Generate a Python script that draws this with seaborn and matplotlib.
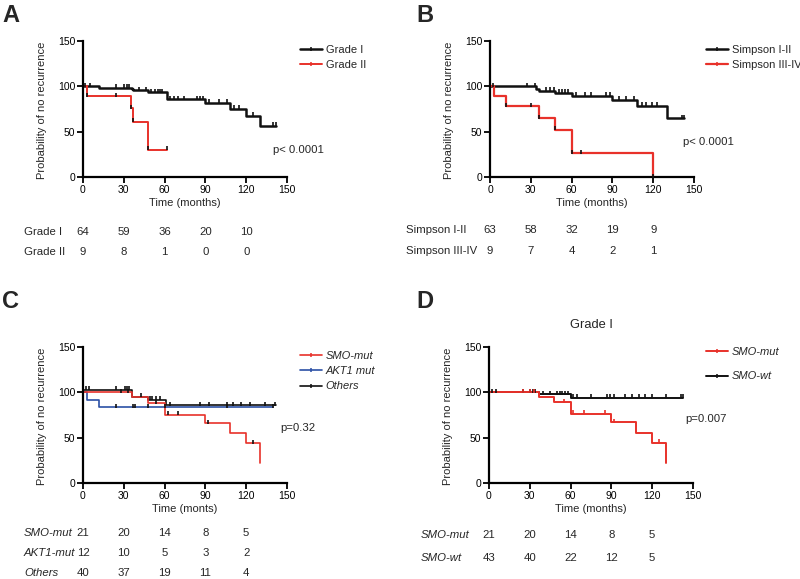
import numpy as np
import matplotlib
matplotlib.use("Agg")
import matplotlib.pyplot as plt
import matplotlib.transforms as mtransforms
from matplotlib.lines import Line2D
import seaborn as sns

# ---------------- data ----------------
# Panel A
A_I_t = [0, 12, 36, 37, 48, 62, 90, 108, 120, 130, 142]
A_I_s = [100, 98.5, 97, 95.5, 93.5, 85.5, 82, 75.5, 67.5, 56.5, 56.5]
A_I_c = [1.5, 5, 24, 30, 32, 34, 41, 46, 50, 53, 55, 56.5, 58, 64, 67, 70, 74, 84, 86, 88, 93, 100, 106, 111, 115, 125, 140, 142]
A_II_t = [0, 3, 35, 36.5, 48, 62]
A_II_s = [100, 89, 76, 61, 30, 30]
A_II_c = [3, 24, 35, 36.5, 48, 62]
A_labels = ["Grade I", "Grade II"]
A_risk = [[64, 59, 36, 20, 10], [9, 8, 1, 0, 0]]

# Panel B
B_I_t = [0, 34, 36, 48, 60, 90, 108, 130, 143]
B_I_s = [100, 97.5, 95, 93, 89.5, 85, 78.5, 65, 65]
B_I_c = [2.5, 27, 33, 41, 44, 47, 51, 53, 55, 57, 63, 70, 74, 85, 88, 95, 100, 106, 112, 115, 119, 123, 141, 143]
B_II_t = [0, 3, 12, 36, 48, 60, 120]
B_II_s = [100, 89, 78, 65, 52, 26, 0]
B_II_c = [12, 30, 36, 48, 60, 67, 120]
B_labels = ["Simpson I-II", "Simpson III-IV"]
B_risk = [[63, 58, 32, 19, 9], [9, 7, 4, 2, 1]]

# Panel C
C_smo_t = [0, 36, 48, 60, 90, 108, 120, 130]
C_smo_s = [100, 95, 88, 75.5, 66, 55, 44, 22]
C_smo_c = [28, 33, 54, 62.5, 70, 92, 125]
C_akt_t = [0, 3, 12, 140]
C_akt_s = [100, 91.7, 83.3, 83.3]
C_akt_c = [24, 36.5, 38, 48, 60, 106, 140]
C_oth_t = [0, 36, 48, 61, 142]
C_oth_s = [103, 95, 92, 86, 86]
C_oth_c = [2, 4.7, 24.3, 31, 32.6, 34, 42.4, 49, 51, 54, 56.6, 64, 86, 93, 105.6, 110.5, 116, 122.8, 133.8, 141]
C_labels = ["SMO-mut", "AKT1 mut", "Others"]
C_risk_labels = ["SMO-mut", "AKT1-mut", "Others"]
C_risk = [[21, 20, 14, 8, 5], [12, 10, 5, 3, 2], [40, 37, 19, 11, 4]]

# Panel D
D_mut_t = [0, 37, 48, 60, 90, 108, 120, 130]
D_mut_s = [100, 95, 89, 76.5, 67, 55.5, 44.5, 22.5]
D_mut_c = [25, 30, 33, 55, 62, 70, 85, 92, 125]
D_wt_t = [0, 37, 60, 143]
D_wt_s = [100, 97.7, 94, 94]
D_wt_c = [2, 5, 25, 30, 32, 34, 40, 45, 50, 52, 54, 56, 58, 62, 65, 75, 87, 89, 92, 100, 105, 110, 115, 120, 130, 141, 143]
D_labels = ["SMO-mut", "SMO-wt"]
D_risk = [[21, 20, 14, 8, 5], [43, 40, 22, 12, 5]]

risk_times = [0, 30, 60, 90, 120]
x_ticks = [0, 30, 60, 90, 120, 150]
y_ticks = [0, 50, 100, 150]

# ---------------- style ----------------
sns.set_style("ticks")
plt.rcParams['font.family'] = ['Liberation Sans', 'DejaVu Sans']

RED = '#e8312a'
BLUE = '#2b50a6'
BLACK = '#111111'

W, H = 800, 579
fig = plt.figure(figsize=(W / 100, H / 100), dpi=100)


def px_axes(x0, x1, y_top, y_bot):
    return fig.add_axes([x0 / W, 1 - y_bot / H, (x1 - x0) / W, (y_bot - y_top) / H])


def surv_at(times, surv, tt):
    idx = np.searchsorted(np.asarray(times), np.asarray(tt), side='right') - 1
    return np.asarray(surv)[idx]


def km(ax, t, s, c, color, lw, ccolor=None):
    sns.lineplot(x=t, y=s, color=color, drawstyle='steps-post', estimator=None,
                 sort=False, linewidth=lw, ax=ax, legend=False)
    cs = surv_at(t, s, c) + 1.6
    sns.scatterplot(x=c, y=cs, marker='|', s=7, color=ccolor or color,
                    linewidth=1.2, ax=ax, legend=False, clip_on=False, zorder=5)


def style_axes(ax, xlabel):
    ax.set_xlim(0, 150)
    ax.set_ylim(0, 150)
    ax.set_xticks(x_ticks)
    ax.set_yticks(y_ticks)
    sns.despine(ax=ax)
    for sp in ['left', 'bottom']:
        ax.spines[sp].set_linewidth(1.6)
        ax.spines[sp].set_color('black')
    ax.tick_params(width=1.3, length=4, labelsize=7.5, pad=1.5, colors='black')
    ax.set_xlabel(xlabel, fontsize=8)
    ax.set_ylabel("Probability of no recurrence", fontsize=8)
    ax.xaxis.set_label_coords(0.5, -0.155)
    ax.yaxis.set_label_coords(-0.178, 0.49)


def legend(ax, handles_info, x_px, y_top_px, spacing, italic=False):
    handles = [Line2D([0], [0], color=c, lw=lw, marker='|', markersize=3,
                      markeredgewidth=1.1) for c, lw in handles_info[1]]
    leg = ax.legend(handles, handles_info[0], loc='upper left',
                    bbox_to_anchor=(x_px / W, 1 - y_top_px / H),
                    bbox_transform=fig.transFigure, frameon=False,
                    fontsize=8, handlelength=2.0, handletextpad=0.3,
                    labelspacing=spacing, borderpad=0, borderaxespad=0)
    if italic:
        for tx in leg.get_texts():
            tx.set_fontstyle('italic')


def risk_table(ax, labels, rows, label_x, ys, italic=False):
    trans = mtransforms.blended_transform_factory(ax.transData, fig.transFigure)
    for lab, row, y in zip(labels, rows, ys):
        fig.text(label_x / W, 1 - y / H, lab, ha='left', va='center', fontsize=8.2,
                 fontstyle='italic' if italic else 'normal')
        for t, n in zip(risk_times, row):
            ax.text(t, 1 - y / H, str(n), transform=trans, ha='center', va='center',
                    fontsize=8.2)


# ---------------- Panel A ----------------
axA = px_axes(83, 287, 41, 177)
km(axA, A_I_t, A_I_s, A_I_c, BLACK, 1.8)
km(axA, A_II_t, A_II_s, A_II_c, RED, 1.4, ccolor=BLACK)
style_axes(axA, "Time (months)")
legend(axA, (A_labels, [(BLACK, 1.8), (RED, 1.4)]), 300, 45, 0.45)
axA.text(139.7, 29.8, "p< 0.0001", fontsize=8.2, va='center', ha='left', clip_on=False)
risk_table(axA, A_labels, A_risk, 24, [232, 252.5])

# ---------------- Panel B ----------------
axB = px_axes(490, 694, 41, 177)
km(axB, B_I_t, B_I_s, B_I_c, BLACK, 1.8)
km(axB, B_II_t, B_II_s, B_II_c, RED, 1.6, ccolor=BLACK)
style_axes(axB, "Time (months)")
legend(axB, (B_labels, [(BLACK, 1.8), (RED, 1.6)]), 706, 45, 0.45)
axB.text(142, 38.6, "p< 0.0001", fontsize=8.2, va='center', ha='left', clip_on=False)
risk_table(axB, B_labels, B_risk, 406, [229.5, 251])

# ---------------- Panel C ----------------
axC = px_axes(83, 287, 347, 483)
km(axC, C_oth_t, C_oth_s, C_oth_c, BLACK, 1.2)
km(axC, C_akt_t, C_akt_s, C_akt_c, BLUE, 1.2, ccolor=BLACK)
km(axC, C_smo_t, C_smo_s, C_smo_c, RED, 1.2, ccolor=BLACK)
style_axes(axC, "Time (monts)")
legend(axC, (C_labels, [(RED, 1.2), (BLUE, 1.2), (BLACK, 1.2)]), 300, 351, 0.47, italic=True)
axC.text(144.9, 60.6, "p=0.32", fontsize=8.2, va='center', ha='left', clip_on=False)
risk_table(axC, C_risk_labels, C_risk, 24, [533.5, 553.5, 573], italic=True)

# ---------------- Panel D ----------------
axD = px_axes(489, 693, 347, 483)
km(axD, D_wt_t, D_wt_s, D_wt_c, BLACK, 1.4)
km(axD, D_mut_t, D_mut_s, D_mut_c, RED, 1.4)
style_axes(axD, "Time (months)")
legend(axD, (D_labels, [(RED, 1.4), (BLACK, 1.4)]), 706, 347, 1.3, italic=True)
axD.text(144, 70.6, "p=0.007", fontsize=8.2, va='center', ha='left', clip_on=False)
axD.set_title("Grade I", fontsize=9.3, pad=14)
risk_table(axD, D_labels, D_risk, 421, [535, 558], italic=True)

# ---------------- panel letters ----------------
for lab, x, y in [("A", 2, 16), ("B", 416, 16), ("C", 2, 302), ("D", 416, 302)]:
    fig.text(x / W, 1 - y / H, lab, fontsize=17, fontweight='bold', ha='left', va='center')

fig.savefig("out.png", dpi=100)
